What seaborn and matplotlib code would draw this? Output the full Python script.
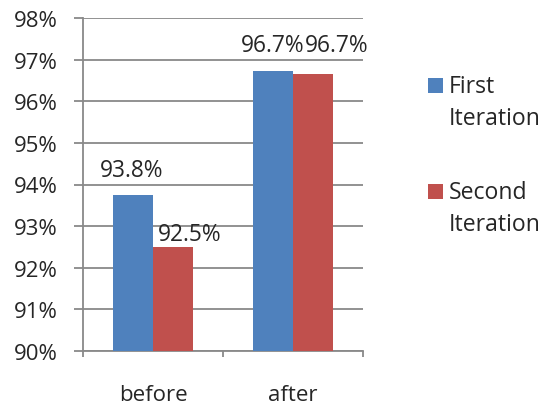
import matplotlib
matplotlib.use("Agg")
import matplotlib.pyplot as plt
from matplotlib.patches import Rectangle
from matplotlib.ticker import FuncFormatter, FixedLocator
import seaborn as sns
import pandas as pd

# Data
phases = ["before", "after"]
series = ["First Iteration", "Second Iteration"]
first_iteration = [93.75, 96.73]
second_iteration = [92.5, 96.66]
y_ticks = [90, 91, 92, 93, 94, 95, 96, 97, 98]

colors = ["#4F81BD", "#C0504D"]
grid_color = "#898989"
font = "Open Sans"
fs = 16

df = pd.DataFrame({
    "phase": phases * 2,
    "series": [series[0]] * len(phases) + [series[1]] * len(phases),
    "value": first_iteration + second_iteration,
})

sns.set_style("white")
plt.rcParams["font.family"] = [font, "DejaVu Sans"]

fig = plt.figure(figsize=(5.53, 4.06), dpi=100)
ax = fig.add_axes([83 / 553, 1 - 352 / 406, 280 / 553, 333 / 406])

sns.barplot(data=df, x="phase", y="value", hue="series", order=phases,
            hue_order=series, palette=colors, width=0.571, gap=0,
            linewidth=0, saturation=1, legend=False, ax=ax, zorder=3)

ax.set_xlim(-0.5, 1.5)
ax.set_ylim(90, 98)
ax.yaxis.set_major_locator(FixedLocator(y_ticks))
ax.yaxis.set_major_formatter(FuncFormatter(lambda v, p: f"{v:.0f}%"))
ax.grid(axis="y", color=grid_color, linewidth=1.3, zorder=0)
ax.set_axisbelow(True)
ax.set_xlabel("")
ax.set_ylabel("")

for s in ["top", "right"]:
    ax.spines[s].set_visible(False)
for s in ["left", "bottom"]:
    ax.spines[s].set_color(grid_color)
    ax.spines[s].set_linewidth(1.3)

ax.tick_params(axis="y", which="major", direction="out", length=6.5, width=1.3,
               color=grid_color, labelsize=fs, pad=12, left=True)
ax.set_xticks([-0.5, 0.5, 1.5], minor=True)
ax.tick_params(axis="x", which="minor", direction="out", length=4.5, width=1.3,
               color=grid_color, bottom=True)
ax.tick_params(axis="x", which="major", length=0, labelsize=fs, pad=24)

# Value labels above bars (baseline offsets in pixels from each bar's top centre)
offsets = {
    (0, 0): (-1, 19), (0, 1): (16.5, 7),
    (1, 0): (-0.5, 20), (1, 1): (24, 23),
}
for s_idx, container in enumerate(ax.containers):
    for p_idx, bar in enumerate(container):
        val = bar.get_height()
        dx, dy = offsets[(p_idx, s_idx)]
        ax.annotate(f"{val:.1f}%",
                    xy=(bar.get_x() + bar.get_width() / 2, val),
                    xytext=(dx, dy), textcoords="offset pixels",
                    ha="center", va="baseline", fontsize=fs + 0.4,
                    annotation_clip=False, zorder=5)

# Legend
legend_items = [("First", "Iteration"), ("Second", "Iteration")]
legend_y = [86, 192]
for (l1, l2), yc, col in zip(legend_items, legend_y, colors):
    fig.patches.append(Rectangle((428 / 553, 1 - (yc + 7.5) / 406), 15 / 553, 15 / 406,
                                 transform=fig.transFigure, facecolor=col,
                                 edgecolor="none"))
    fig.text(449 / 553, 1 - (yc + 7) / 406, l1, ha="left", va="baseline", fontsize=16.6)
    fig.text(449 / 553, 1 - (yc + 39) / 406, l2, ha="left", va="baseline", fontsize=16.6)

fig.savefig("out.png", dpi=100)
